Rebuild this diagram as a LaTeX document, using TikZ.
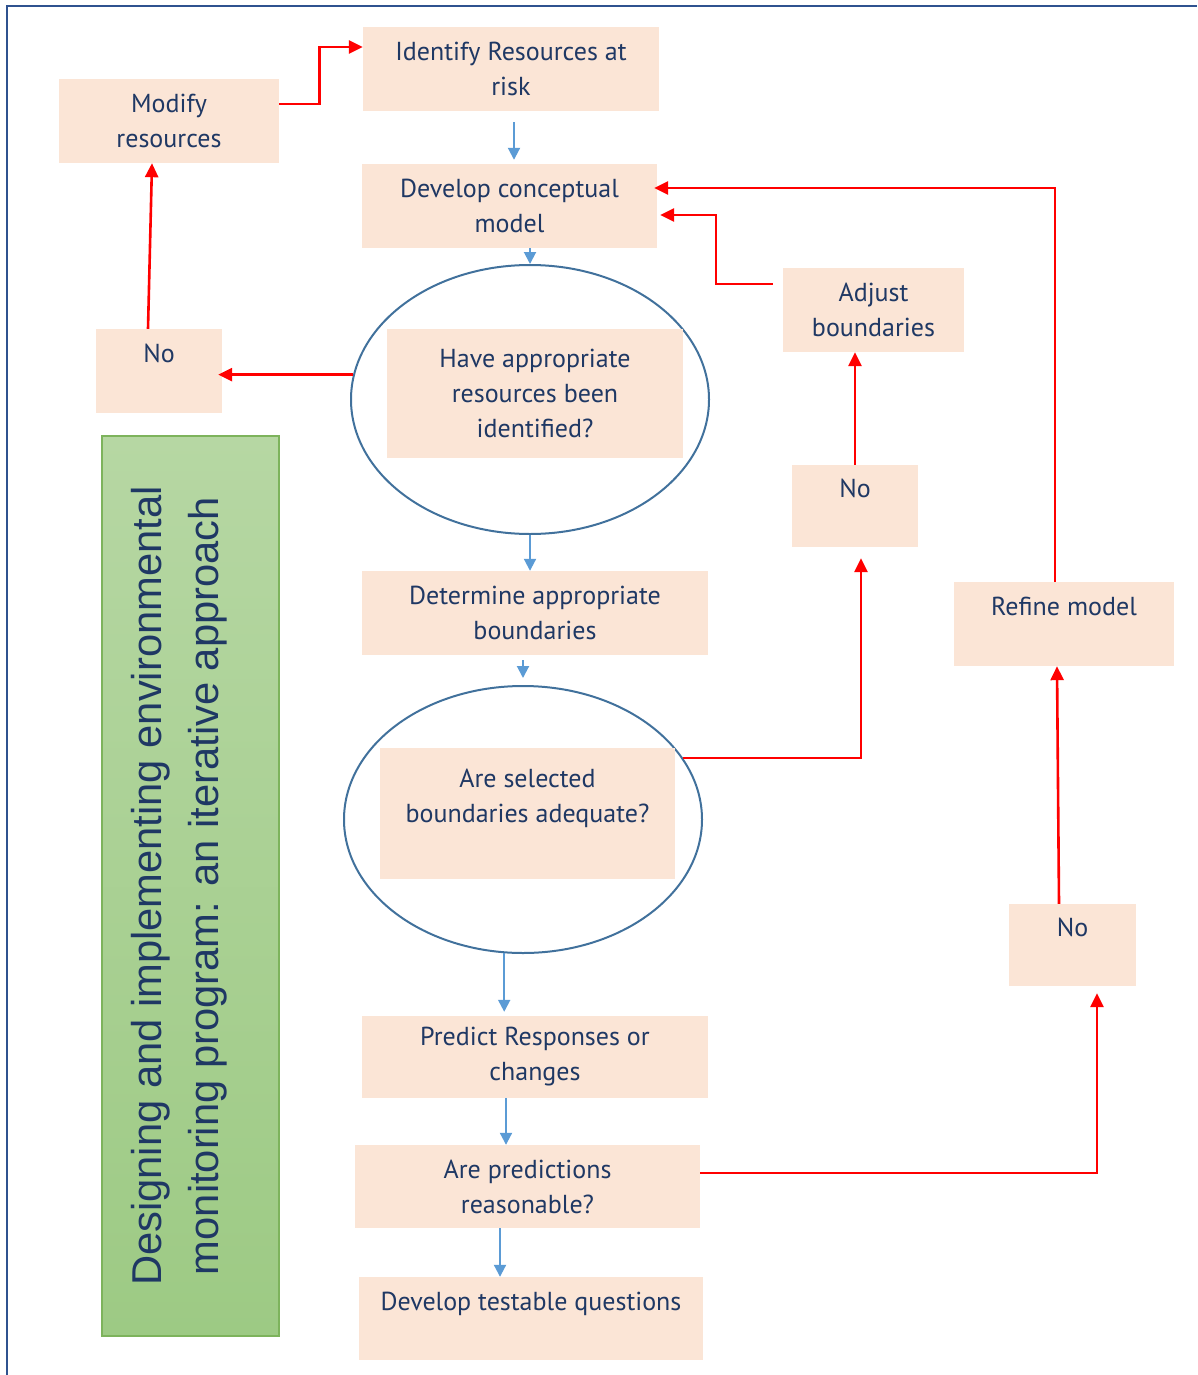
\documentclass[tikz,border=0pt]{standalone}
\usepackage{fontspec}
\setmainfont{PT Sans}
\newfontfamily\titlefont{Liberation Sans}
\usetikzlibrary{arrows.meta,shapes.geometric,calc}
\definecolor{peach}{HTML}{FBE5D6}
\definecolor{navy}{HTML}{1F3864}
\definecolor{flowblue}{HTML}{5B9BD5}
\definecolor{ringblue}{HTML}{41719C}
\definecolor{frameblue}{HTML}{2F528F}
\definecolor{loopred}{HTML}{FF0000}
\definecolor{bannertop}{HTML}{B6D7A3}
\definecolor{bannerbot}{HTML}{9DCA84}
\definecolor{bannerline}{HTML}{7DB35C}

\begin{document}
\begin{tikzpicture}[x=1pt,y=-1pt,
  box/.style={fill=peach, draw=none, inner sep=0pt, align=center, text=navy,
    font=\fontsize{26}{35}\selectfont},
  ring/.style={ellipse, draw=ringblue, line width=2pt, inner sep=0pt},
  flow/.style={draw=flowblue, line width=2pt, -{Triangle[length=12pt,width=12pt]}},
  loop/.style={draw=loopred, line width=2.6pt, -{Triangle[length=14pt,width=13pt]}}]

\useasboundingbox (0,0) rectangle (1197,1375);

% page frame
\draw[frameblue, line width=2.5pt] (7,1375) -- (7,6) -- (1197,6);

% side banner
\node[top color=bannertop, bottom color=bannerbot, draw=bannerline, line width=1.2pt,
  minimum width=177, minimum height=900, inner sep=0pt] (banner) at (190.5,886) {};
\node[rotate=90, align=center, text=navy, inner sep=0pt,
  font=\titlefont\fontsize{41.7}{57}\selectfont] (title) at (179,886)
  {Designing and implementing environmental\\monitoring program: an iterative approach};

% main column
\node[box, minimum width=296, minimum height=84] (identify) at (511,69) {Identify Resources at\\risk};
\node[box, minimum width=295, minimum height=84] (develop) at (509.5,206) {Develop conceptual\\model};
\node[ring, minimum width=358, minimum height=269] (ring1) at (530,399.5) {};
\node[box, minimum width=296, minimum height=129] (question1) at (535,393.5) {Have appropriate\\resources been\\identified?};
\node[box, minimum width=346, minimum height=84] (determine) at (535,613) {Determine appropriate\\boundaries};
\node[ring, minimum width=358, minimum height=267] (ring2) at (523,819.5) {};
\node[box, minimum width=295, minimum height=131] (question2) at (527.5,813.5) {Are selected\\boundaries adequate?\\~};
\node[box, minimum width=346, minimum height=82] (predict) at (535,1057) {Predict Responses or\\changes};
\node[box, minimum width=345, minimum height=83] (reason) at (527.5,1186.5) {Are predictions\\reasonable?};
\node[box, minimum width=344, minimum height=83] (testable) at (531,1318.5) {Develop testable questions\\~};

% side boxes
\node[box, minimum width=220, minimum height=84] (modify) at (169,121) {Modify\\resources};
\node[box, minimum width=126, minimum height=84] (noL) at (159,371) {No\\~};
\node[box, minimum width=181, minimum height=84] (adjust) at (873.5,310) {Adjust\\boundaries};
\node[box, minimum width=126, minimum height=82] (noM) at (855,506) {No\\~};
\node[box, minimum width=220, minimum height=84] (refine) at (1064,624) {Refine model\\~};
\node[box, minimum width=127, minimum height=82] (noR) at (1072.5,945) {No\\~};

% connector start points
\coordinate (fromIdentify) at ($(identify.south)+(3,0)$);
\coordinate (fromPredict) at ($(predict.south)+(-29,0)$);
\coordinate (fromReason) at ($(reason.south)+(-27.5,0)$);

% forward flow
\draw[flow, shorten <=11pt, shorten >=4pt] (fromIdentify) -- (fromIdentify |- develop.north);
\draw[flow] (develop.south -| ring1.north) -- (ring1.north);
\draw[flow] (ring1.south) -- (ring1.south |- determine.north);
\draw[flow, shorten <=5pt, shorten >=7pt] (determine.south -| ring2.north) -- (ring2.north);
\draw[flow, shorten >=4pt] (ring2.262) -- (ring2.262 |- predict.north);
\draw[flow] (fromPredict) -- (fromPredict |- reason.north);
\draw[flow] (fromReason) -- (fromReason |- testable.north);

% feedback loops
\draw[loop] ($(modify.east)+(0,-17)$) -- ++(40,0) |- ($(identify.west)+(0,-22)$);
\draw[loop] ($(noL.north)+(-11,0)$) -- ($(modify.south)+(-17,0)$);
\draw[loop, shorten >=-4pt] (ring1.172) -- (ring1.172 -| noL.east);
\draw[loop] ($(adjust.west)+(-10,-26)$) -- ++(-57,0) |- ($(develop.east)+(3,9)$);
\draw[loop, shorten >=-3pt] ($(refine.north)+(-9,0)$) |- ($(develop.east)+(0,-18)$);
\draw[loop] (noM.north) -- (noM.north |- adjust.south);
\draw[loop, shorten >=11pt] (ring2.21) -| ($(noM.south)+(6,0)$);
\draw[loop, shorten >=7pt] ($(reason.east)+(0,-13.5)$) -| ($(noR.south)+(24.5,0)$);
\draw[loop] ($(noR.north)+(-13.5,0)$) -- ($(refine.south)+(-7,0)$);
\end{tikzpicture}
\end{document}
